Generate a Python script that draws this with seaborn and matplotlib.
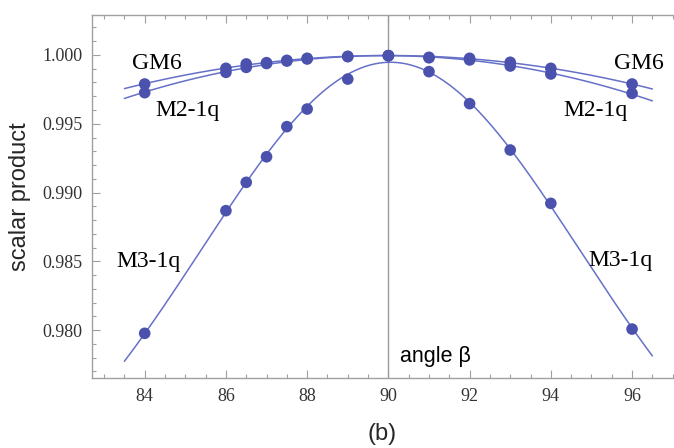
import numpy as np
import pandas as pd
import matplotlib
matplotlib.use("Agg")
import matplotlib.pyplot as plt
import seaborn as sns
from matplotlib.ticker import MultipleLocator, FormatStrFormatter

# ---- data ----
angles = [84, 86, 86.5, 87, 87.5, 88, 89, 90, 91, 92, 93, 94, 96]
gm6 = [0.99789, 0.99903, 0.99935, 0.99944, 0.99961, 0.99976, 0.99990, 0.99995,
       0.99983, 0.99976, 0.99947, 0.99903, 0.99789]
m2_1q = [0.99726, 0.99874, 0.99910, 0.99938, 0.99956, 0.99971, 0.99988, 0.99995,
         0.99980, 0.99964, 0.99920, 0.99862, 0.99721]
m3_1q = [0.97976, 0.98868, 0.99074, 0.99260, 0.99479, 0.99607, 0.99825, 0.99995,
         0.99879, 0.99646, 0.99309, 0.98921, 0.98007]
fit_range = (83.5, 96.5)
xticks = [84, 86, 88, 90, 92, 94, 96]
yticks = [0.980, 0.985, 0.990, 0.995, 1.000]

df = pd.DataFrame({"angle": angles, "GM6": gm6, "M2-1q": m2_1q, "M3-1q": m3_1q})

# Gaussian-shaped least-squares fit of the M3-1q points (as the fitted curve in the figure)
xa = np.asarray(angles, float)
ya = np.asarray(m3_1q, float)
best = None
for s in np.linspace(3.0, 7.0, 401):
    for c0 in np.linspace(89.5, 90.5, 41):
        g = np.exp(-(xa - c0) ** 2 / (2 * s * s))
        A = np.column_stack([np.ones_like(g), g])
        coef, *_ = np.linalg.lstsq(A, ya, rcond=None)
        r = np.sum((A @ coef - ya) ** 2)
        if best is None or r < best[0]:
            best = (r, s, c0, coef)
_, s_b, c_b, coef_b = best
xf = np.linspace(fit_range[0], fit_range[1], 300)
fit_df = pd.DataFrame({"angle": xf,
                       "M3-1q": coef_b[0] + coef_b[1] * np.exp(-(xf - c_b) ** 2 / (2 * s_b * s_b))})

pt_color = "#4a52ad"
line_color = "#6670c8"
frame_color = "#a0a0a0"

sns.set_theme(style="white")
plt.rcParams["font.family"] = ["Liberation Serif", "DejaVu Serif"]

fig = plt.figure(figsize=(6.74, 4.48), dpi=100)
ax = fig.add_axes([92.3 / 674, 1 - 378.3 / 448, (673.5 - 92.3) / 674, (378.3 - 14.7) / 448])

ax.axvline(90, color="#9a9a9a", lw=1.0, zorder=1)

ax.set_xlim(*fit_range)
for col in ["GM6", "M2-1q"]:
    sns.regplot(data=df, x="angle", y=col, order=2, ci=None, truncate=False,
                scatter=False, ax=ax,
                line_kws=dict(color=line_color, lw=1.1, zorder=2))
sns.lineplot(data=fit_df, x="angle", y="M3-1q", ax=ax, color=line_color, lw=1.1, zorder=2)
for col in ["GM6", "M2-1q", "M3-1q"]:
    sns.scatterplot(data=df, x="angle", y=col, ax=ax, color=pt_color, s=70,
                    edgecolor="none", zorder=3)

ax.set_xlim(82.71, 97.02)
ax.set_ylim(0.97649, 1.00293)
ax.set_xlabel("")
ax.set_ylabel("scalar product", family=["Liberation Sans", "DejaVu Sans"],
              fontsize=17, labelpad=8)

ax.xaxis.set_major_locator(MultipleLocator(2))
ax.xaxis.set_minor_locator(MultipleLocator(0.5))
ax.yaxis.set_major_locator(MultipleLocator(0.005))
ax.yaxis.set_minor_locator(MultipleLocator(0.001))
ax.set_xticks(xticks)
ax.set_yticks(yticks)
ax.yaxis.set_major_formatter(FormatStrFormatter("%.3f"))

ax.tick_params(which="both", direction="in", top=True, bottom=True, left=True,
               right=False, color=frame_color, labelsize=13, labelcolor="#333333")
ax.tick_params(which="major", length=5.5, width=0.8, pad=7)
ax.tick_params(which="minor", length=3, width=0.8)

for side in ["left", "bottom", "top"]:
    ax.spines[side].set_color(frame_color)
    ax.spines[side].set_linewidth(1.0)
ax.spines["right"].set_visible(False)

lab_kw = dict(fontsize=17, color="black", family=["Liberation Serif", "DejaVu Serif"],
              va="baseline", ha="left")
ax.text(83.68, 0.99896, "GM6", **lab_kw)
ax.text(95.55, 0.99896, "GM6", **lab_kw)
ax.text(84.27, 0.99556, "M2-1q", **lab_kw)
ax.text(94.31, 0.99556, "M2-1q", **lab_kw)
ax.text(83.30, 0.98460, "M3-1q", **lab_kw)
ax.text(94.93, 0.98465, "M3-1q", **lab_kw)
ax.text(90.29, 0.97769, "angle β", fontsize=15.5, color="black",
        family=["Liberation Sans", "DejaVu Sans"], va="baseline", ha="left")

fig.text(381.7 / 674, 1 - 434 / 448, "(b)", fontsize=17,
         family=["Liberation Sans", "DejaVu Sans"], ha="center", va="center")

fig.savefig("out.png", dpi=100)
